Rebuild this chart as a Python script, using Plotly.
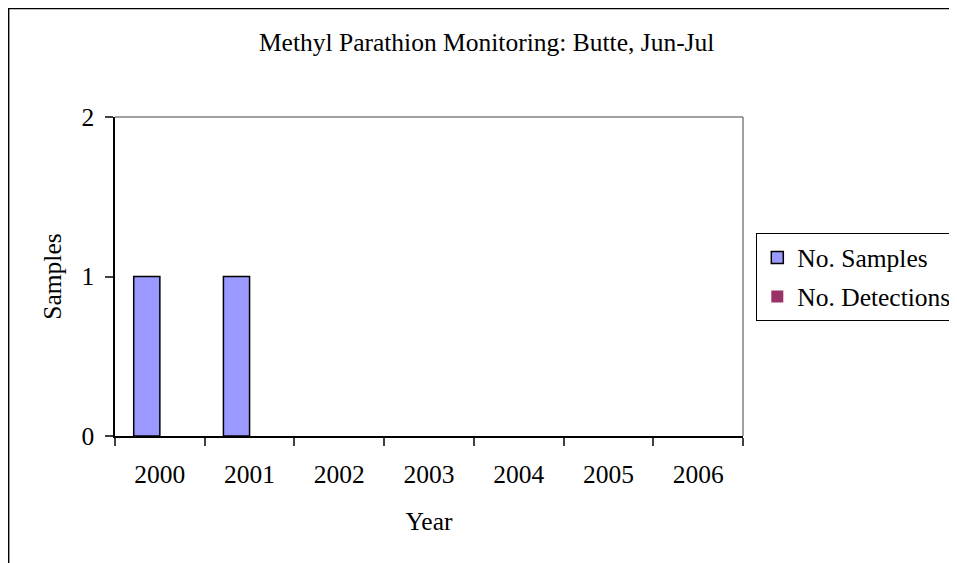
import plotly.graph_objects as go

years = ["2000", "2001", "2002", "2003", "2004", "2005", "2006"]
samples = [1, 1, 0, 0, 0, 0, 0]
detections = [0, 0, 0, 0, 0, 0, 0]
y_ticks = [0, 1, 2]

OFF = 8  # browser body margin
W, H = 949, 555
L, R, T, B = 115 - OFF, 742.7 - OFF, 117 - OFF, 436 - OFF
pw, ph = R - L, B - T

def px(x):
    return (x - OFF - L) / pw

def py(y):
    return (B - (y - OFF)) / ph

FONT = "Liberation Serif, Times New Roman, serif"
FS = 25.5

def lw(vals):
    return [1.5 if v > 0 else 0 for v in vals]

fig = go.Figure()
fig.add_trace(go.Bar(x=years, y=samples, name="No. Samples", legendgroup="s",
                     marker=dict(color="#9999FF", line=dict(color="black", width=lw(samples)))))
fig.add_trace(go.Bar(x=years, y=detections, name="No. Detections", legendgroup="d",
                     marker=dict(color="#993366", line=dict(color="black", width=lw(detections)))))

fig.update_layout(
    width=W, height=H,
    margin=dict(l=L, r=W - R, t=T, b=H - B, pad=0, autoexpand=False),
    paper_bgcolor="white", plot_bgcolor="white",
    font=dict(family=FONT, size=FS, color="black"),
    barmode="group", bargap=0.417, bargroupgap=0,
    showlegend=True,
    legend=dict(x=px(756), y=py(233.3), xanchor="left", yanchor="top",
                bordercolor="black", borderwidth=1, bgcolor="white",
                font=dict(family=FONT, size=FS, color="black"),
                traceorder="grouped", tracegroupgap=3, itemwidth=30),
    xaxis=dict(type="category", showgrid=False, showline=True, linecolor="black", linewidth=1.5,
               ticks="outside", ticklen=8, tickwidth=1.5, tickcolor="#404040",
               tickson="boundaries", ticklabelstandoff=15,
               tickfont=dict(family=FONT, size=FS, color="black"),
               title=dict(text="Year", font=dict(family=FONT, size=FS, color="black"), standoff=24),
               fixedrange=True),
    yaxis=dict(range=[0, 2], tickvals=y_ticks, showgrid=False, showline=True, linecolor="black", linewidth=1.5,
               ticks="outside", ticklen=8, tickwidth=1.5, tickcolor="#404040",
               ticklabelstandoff=6,
               tickfont=dict(family=FONT, size=FS, color="black"), zeroline=False,
               title=dict(text="Samples", font=dict(family=FONT, size=FS, color="black"), standoff=12),
               fixedrange=True),
    title=dict(text="Methyl Parathion Monitoring: Butte, Jun-Jul", x=px(486.5), xanchor="center",
               y=1 - (42 - OFF) / H, yanchor="middle", xref="paper", yref="container",
               font=dict(family=FONT, size=FS, color="black")),
    shapes=[
        dict(type="rect", xref="paper", yref="paper", x0=px(8.7), x1=px(1100), y0=py(700), y1=py(8.6),
             line=dict(color="black", width=1.5), fillcolor="rgba(0,0,0,0)", layer="below"),
        dict(type="line", xref="paper", yref="paper", x0=0, x1=1, y0=1, y1=1,
             line=dict(color="#808080", width=1.5)),
        dict(type="line", xref="paper", yref="paper", x0=1, x1=1, y0=0, y1=1,
             line=dict(color="#808080", width=1.5)),
    ],
)

fig.write_html("out.html")
